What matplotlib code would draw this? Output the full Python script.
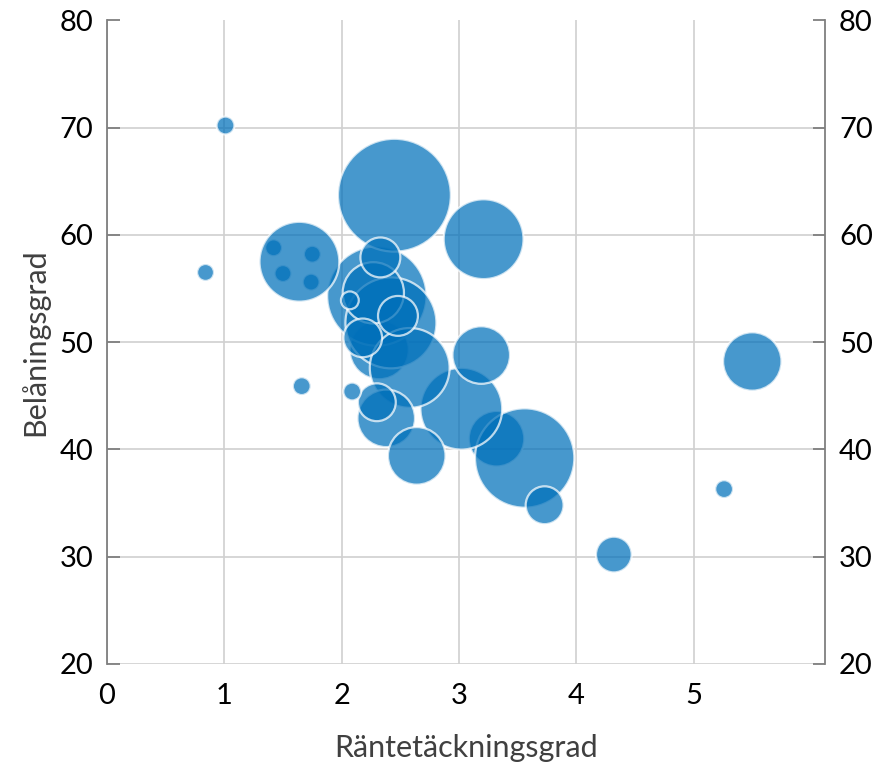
import matplotlib.pyplot as plt

# Bubble chart: Räntetäckningsgrad vs Belåningsgrad, bubble area = size value

rantetackning = [1.42, 1.75, 1.50, 1.74, 2.32, 3.32, 3.56, 3.02, 3.73, 2.30,
                 2.42, 2.45, 1.64, 3.21, 2.58, 3.19, 2.38, 2.64, 2.27, 2.33,
                 2.48, 2.18, 2.30, 2.07, 4.32, 5.50, 1.01, 0.84, 1.66, 2.09,
                 5.26]
belaning = [58.8, 58.2, 56.4, 55.6, 49.3, 41.0, 39.2, 43.8, 34.8, 54.3,
            51.8, 63.7, 57.5, 59.6, 47.6, 48.8, 42.9, 39.4, 54.6, 57.9,
            52.45, 50.4, 44.4, 53.9, 30.2, 48.2, 70.2, 56.5, 45.9, 45.4,
            36.3]
storlek = [0.9, 0.9, 0.9, 0.9, 11, 9.7, 31, 21, 4.5, 31,
           26, 40, 20, 20, 20, 10.4, 10.4, 10.4, 11.8, 5,
           5, 4.7, 4.5, 1, 4, 10.7, 1, 0.9, 1, 1,
           1]

y_ticks = [20, 30, 40, 50, 60, 70, 80]
x_ticks = [0, 1, 2, 3, 4, 5]

plt.rcParams['font.family'] = ['Lato', 'DejaVu Sans']

fig = plt.figure(figsize=(8.82, 7.66), dpi=100)
ax = fig.add_axes([0.1213, 0.1332, 0.8141, 0.8402])

ax.scatter(rantetackning, belaning, s=[v * 165 for v in storlek],
           color='#0070BA', alpha=0.72, edgecolors='white', linewidths=1.6,
           zorder=3)

ax.set_xlim(0, 6.12)
ax.set_ylim(20, 80)
ax.set_xticks(x_ticks)
ax.set_yticks(y_ticks)

ax.grid(True, color='#d0d0d0', linewidth=1.2, zorder=0)
ax.set_axisbelow(True)
# no horizontal gridline along the top edge
ax.get_ygridlines()[-1].set_visible(False)

for side in ['top', 'bottom']:
    ax.spines[side].set_visible(False)
for side in ['left', 'right']:
    ax.spines[side].set_color('#7f7f7f')
    ax.spines[side].set_linewidth(1.3)

ax.tick_params(axis='y', which='both', direction='in', left=True, right=True,
               labelleft=True, labelright=True, length=9, width=1.3,
               color='#7f7f7f', labelsize=21, pad=10)
ax.tick_params(axis='x', length=0, labelsize=21, pad=14)

ax.set_xlabel('Räntetäckningsgrad', fontsize=22, color='#404040', labelpad=18)
ax.set_ylabel('Belåningsgrad', fontsize=22, color='#404040', labelpad=7)

fig.savefig('out.png', dpi=100)
